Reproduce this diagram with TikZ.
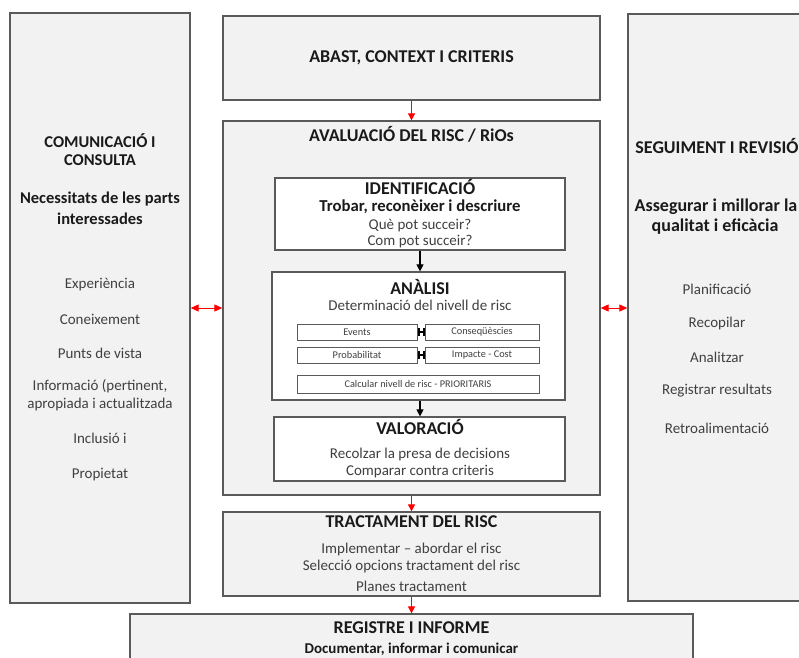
\documentclass[tikz,border=0pt]{standalone}
\usepackage{fontspec}
\setmainfont{Carlito}
\usetikzlibrary{arrows.meta}
\definecolor{boxfill}{HTML}{F2F2F2}
\definecolor{boxline}{HTML}{5A5A5A}
\definecolor{txtdark}{HTML}{1A1A1A}
\definecolor{txtgray}{HTML}{404040}
\begin{document}
\begin{tikzpicture}[x=1pt,y=-1pt,
  outerbox/.style={draw=boxline, line width=1.3pt, fill=boxfill, inner sep=0pt},
  innerbox/.style={draw=boxline, line width=1.2pt, fill=white, inner sep=0pt},
  smallbox/.style={draw=boxline, line width=1pt, fill=white, inner sep=0pt, font=\fontsize{10.3}{12}\selectfont, text=txtgray},
  head/.style={font=\fontsize{18}{21}\selectfont\bfseries, text=txtdark, inner sep=0pt},
  lhead/.style={font=\fontsize{16.5}{19}\selectfont\bfseries, text=txtdark, inner sep=0pt},
  sub/.style={font=\fontsize{16.7}{19}\selectfont\bfseries, text=txtdark, inner sep=0pt},
  item/.style={font=\fontsize{15}{17}\selectfont, text=txtgray, inner sep=0pt},
  redarrow/.style={draw=red, line width=0.9pt, -{Triangle[length=7pt,width=7pt]}},
  reddouble/.style={draw=red, line width=1pt, {Triangle[length=8pt,width=7pt]}-{Triangle[length=8pt,width=7pt]}},
  blackarrow/.style={draw=black, line width=1.1pt, -{Triangle[length=7pt,width=7pt]}},
  linkbar/.style={draw=black, line width=2pt, {Bar[width=8pt,line width=2pt]}-{Bar[width=8pt,line width=2pt]}}
]
\useasboundingbox (0,0) rectangle (799,657);
\clip (0,0) rectangle (799,657);
\fill[white] (0,0) rectangle (799,657);

% boxes
\node[outerbox, minimum width=180pt, minimum height=590pt] (left) at (100,308) {};
\node[outerbox, minimum width=377pt, minimum height=84pt] (abast) at (411.5,58) {};
\node[outerbox, minimum width=377pt, minimum height=374pt] (aval) at (411.5,308) {};
\node[outerbox, minimum width=178pt, minimum height=587pt] (right) at (717,307.5) {};
\node[outerbox, minimum width=377pt, minimum height=84pt] (tract) at (411.5,554) {};
\node[outerbox, minimum width=563pt, minimum height=66pt] (regis) at (411.5,647) {};

\node[innerbox, minimum width=290pt, minimum height=72pt] (ident) at (420,214) {};
\node[innerbox, minimum width=293pt, minimum height=128pt] (anal) at (418.5,336) {};
\node[innerbox, minimum width=291pt, minimum height=64pt] (valor) at (419.5,449) {};

\node[smallbox, minimum width=120pt, minimum height=16pt] (events) at (357,332) {Events};
\node[smallbox, minimum width=114pt, minimum height=16pt] (conseq) at (482,332) {Conseqüèscies};
\node[smallbox, minimum width=120pt, minimum height=16pt] (prob) at (357,355) {Probabilitat};
\node[smallbox, minimum width=114pt, minimum height=16pt] (impact) at (482,355) {Impacte - Cost};
\node[smallbox, minimum width=242pt, minimum height=18pt] (calc) at (418,384) {Calcular nivell de risc - PRIORITARIS};

% connectors
\draw[redarrow] (abast.south) -- (aval.north);
\draw[redarrow] (aval.south) -- (tract.north);
\draw[redarrow] (tract.south) -- (regis.north);
\draw[reddouble] (left.east |- aval.west) -- (aval.west);
\draw[reddouble] (aval.east) -- (right.west |- aval.east);
\draw[blackarrow] (ident.south) -- (ident.south |- anal.north);
\draw[blackarrow] (ident.south |- anal.south) -- (ident.south |- valor.north);
\draw[linkbar] (events.east) -- (conseq.west);
\draw[linkbar] (prob.east) -- (impact.west);

% left texts
\node[lhead] (l1) at (100,141) {COMUNICACIÓ I};
\node[lhead] (l2) at (100,160) {CONSULTA};
\node[lhead] (l3) at (100,199) {Necessitats de les parts};
\node[lhead] (l4) at (100,219) {interessades};
\node[item] (l5) at (100,285) {Experiència};
\node[item] (l6) at (100,319) {Coneixement};
\node[item] (l7) at (100,353) {Punts de vista};
\node[item] (l8) at (100,386) {Informació (pertinent,};
\node[item] (l9) at (100,404) {apropiada i actualitzada};
\node[item] (l10) at (100,438) {Inclusió i};
\node[item] (l11) at (100,475) {Propietat};

% right texts
\node[head] (r1) at (717,146) {SEGUIMENT I REVISIÓ};
\node[head] (r2) at (716,207) {Assegurar i millorar la};
\node[head] (r3) at (715,227) {qualitat i eficàcia};
\node[item] (r4) at (717,289) {Planificació};
\node[item] (r5) at (717,323) {Recopilar};
\node[item] (r6) at (717,357) {Analitzar};
\node[item] (r7) at (717,391) {Registrar resultats};
\node[item] (r8) at (717,428) {Retroalimentació};

% center texts
\node[head] (t1) at (411.5,58) {ABAST, CONTEXT I CRITERIS};
\node[head] (t2) at (411.5,134) {AVALUACIÓ DEL RISC / RiOs};
\node[head] (t3) at (420,187) {IDENTIFICACIÓ};
\node[sub] (t4) at (420,207) {Trobar, reconèixer i descriure};
\node[item] (t5) at (420,226) {Què pot succeir?};
\node[item] (t6) at (420,242) {Com pot succeir?};
\node[head] (t7) at (420,287) {ANÀLISI};
\node[item] (t8) at (420,305) {Determinació del nivell de risc};
\node[head] (t9) at (420,427) {VALORACIÓ};
\node[item] (t10) at (420,454) {Recolzar la presa de decisions};
\node[item] (t11) at (420,472) {Comparar contra criteris};
\node[head] (t12) at (411.5,522) {TRACTAMENT DEL RISC};
\node[item] (t13) at (411.5,549) {Implementar – abordar el risc};
\node[item] (t14) at (411.5,566) {Selecció opcions tractament del risc};
\node[item] (t15) at (411.5,586) {Planes tractament};
\node[head] (t16) at (411.5,628) {REGISTRE I INFORME};
\node[sub, font=\fontsize{15}{17}\selectfont\bfseries] (t17) at (411.5,649) {Documentar, informar i comunicar};
\end{tikzpicture}
\end{document}
